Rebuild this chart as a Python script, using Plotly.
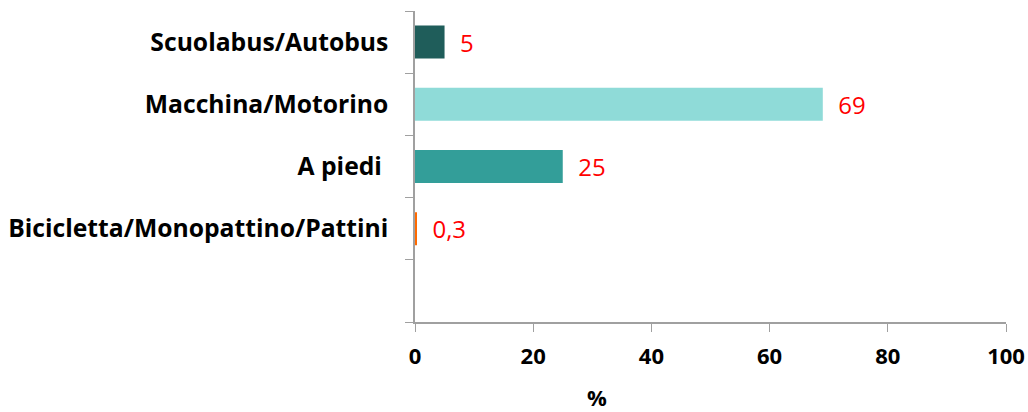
import plotly.graph_objects as go

# Data
modes = ["Scuolabus/Autobus", "Macchina/Motorino", "A piedi ", "Bicicletta/Monopattino/Pattini", " "]
values = [5, 69, 25, 0.3, None]
value_labels = ["5", "69", "25", "0,3", ""]
colors = ["#1F5D5A", "#8FDBD8", "#339E99", "#FF6A00", "#FFFFFF"]
x_ticks = [0, 20, 40, 60, 80, 100]

fig = go.Figure()
fig.add_trace(
    go.Bar(
        x=values,
        y=modes,
        orientation="h",
        marker=dict(color=colors, line=dict(width=0)),
        width=0.53,
        text=["\u00a0\u00a0" + t for t in value_labels],
        textposition="outside",
        cliponaxis=False,
        textfont=dict(family="Open Sans, sans-serif", size=24, color="#FF0000"),
        hoverinfo="skip",
    )
)

axis_grey = "#A0A0A0"
bold_font = dict(family="Open Sans, sans-serif", size=24.7, color="black", weight="bold")

# axis title "%" sits left of centre in the original, so it is an annotation
fig.add_annotation(
    text="%",
    xref="paper",
    yref="paper",
    x=0.308,
    y=-0.24,
    xanchor="center",
    yanchor="middle",
    borderpad=0,
    showarrow=False,
    font=dict(bold_font, size=22),
)

fig.update_layout(
    width=1028,
    height=412,
    margin=dict(l=415, r=22, t=11, b=90),
    plot_bgcolor="white",
    paper_bgcolor="white",
    showlegend=False,
    bargap=0.47,
    xaxis=dict(
        range=[0, 100],
        tickvals=x_ticks,
        ticks="outside",
        ticklen=8,
        tickcolor=axis_grey,
        showline=True,
        linecolor=axis_grey,
        linewidth=1.5,
        showgrid=False,
        zeroline=False,
        automargin=False,
        ticklabelstandoff=6,
        tickfont=dict(bold_font, size=22),
    ),
    yaxis=dict(
        type="category",
        categoryorder="array",
        categoryarray=modes[::-1],
        tickson="boundaries",
        ticks="outside",
        ticklen=8,
        tickcolor=axis_grey,
        showline=True,
        linecolor=axis_grey,
        linewidth=1.5,
        showgrid=False,
        automargin=False,
        ticklabelstandoff=20,
        tickfont=bold_font,
    ),
)

fig.write_html(
    "out.html",
    config={"displayModeBar": False},
    post_script="document.body.style.margin='0';",
)
